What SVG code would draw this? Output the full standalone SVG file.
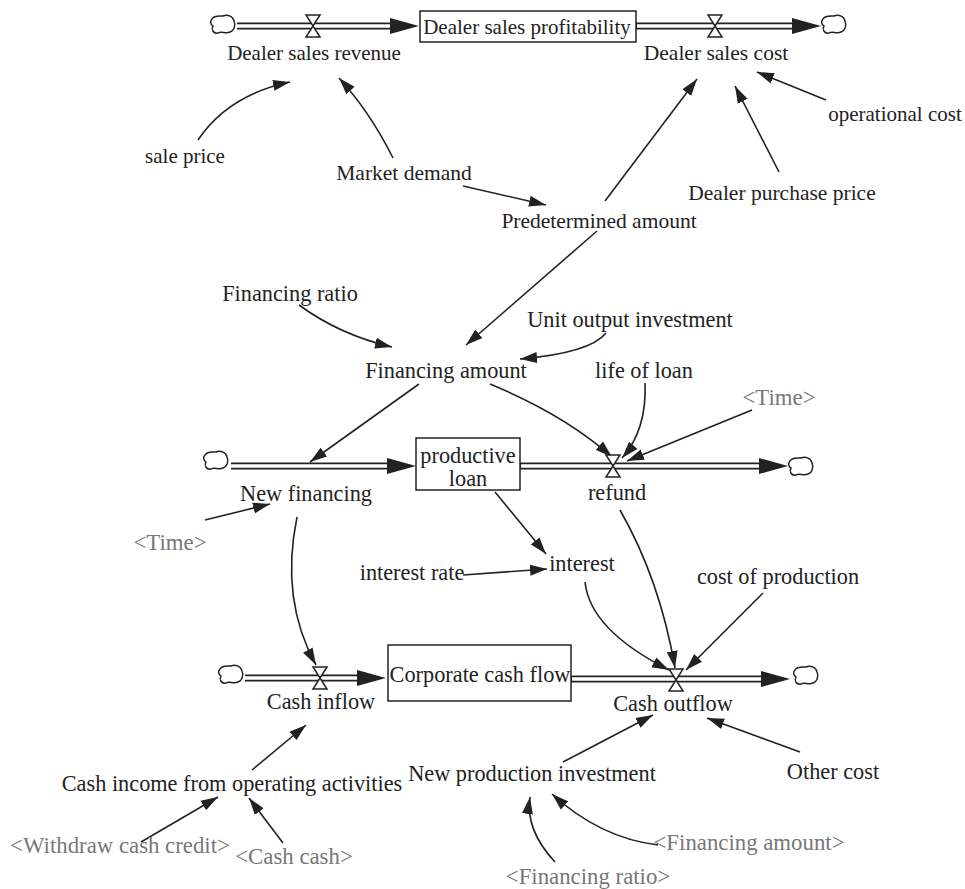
<svg xmlns="http://www.w3.org/2000/svg" width="965" height="889" viewBox="0 0 965 889" font-family="Liberation Serif, DejaVu Serif, serif">
<style>
text{font-family:'Liberation Serif','DejaVu Serif',serif;font-size:22.3px;fill:#222;text-anchor:middle}
text.s{font-size:21px}
text.m{font-size:21.5px}
text.g{fill:#777;font-size:22.8px}
.lnk{fill:none;stroke:#222;stroke-width:1.6;marker-end:url(#ah)}
.pipeo{stroke:#222;stroke-width:7;fill:none}
.pipei{stroke:#fff;stroke-width:3.6;fill:none}
.head{fill:#222}
.valve{fill:#fff;stroke:#222;stroke-width:1.5}
.box{fill:#fff;stroke:#222;stroke-width:1.5}
.cloud{fill:#fff;stroke:#222;stroke-width:1.5}
</style>
<defs>
<marker id="ah" markerUnits="userSpaceOnUse" markerWidth="18" markerHeight="12" refX="17" refY="5.5" orient="auto" viewBox="0 0 18 11">
<path d="M0,0 L17,5.5 L0,11 Z" fill="#222"/>
</marker>
<path id="cl" class="cloud" d="M-11,-6 C-9,-10 -3,-9 0,-9 C4,-11 10,-9 11,-4 C13,0 11,6 7,7 C3,9 -2,6 -5,8 C-10,9 -12,4 -10,1 C-13,-1 -13,-4 -11,-6 Z"/>
<path id="vv" class="valve" d="M-7,-11 L7,-11 L-7,11 L7,11 Z"/>
</defs>

<g id="connectors">
<path class="lnk" d="M198,140 Q228,95 290,82"/>
<path class="lnk" d="M393,158 Q370,112 339,78"/>
<path class="lnk" d="M463,186 L546,205"/>
<path class="lnk" d="M605,201 L697,79"/>
<path class="lnk" d="M779,172 L735,86"/>
<path class="lnk" d="M826,100 L757,72"/>
<path class="lnk" d="M597,231 L466,345"/>
<path class="lnk" d="M299,305 Q340,335 392,347"/>
<path class="lnk" d="M606,333 Q590,353 520,359"/>
<path class="lnk" d="M419,384 L310,462"/>
<path class="lnk" d="M490,384 Q565,415 612,457"/>
<path class="lnk" d="M645,383 Q647,430 622,458"/>
<path class="lnk" d="M752,410 L627,461"/>
<path class="lnk" d="M205,520 L270,504"/>
<path class="lnk" d="M297,517 Q280,600 316,665"/>
<path class="lnk" d="M495,492 L546,554"/>
<path class="lnk" d="M463,575 L547,569"/>
<path class="lnk" d="M585,582 Q590,630 669,670"/>
<path class="lnk" d="M620,510 Q660,580 675,668"/>
<path class="lnk" d="M763,593 L686,670"/>
<path class="lnk" d="M252,770 L306,725"/>
<path class="lnk" d="M563,762 L653,715"/>
<path class="lnk" d="M800,752 L707,718"/>
<path class="lnk" d="M141,842 L218,797"/>
<path class="lnk" d="M283,843 L249,798"/>
<path class="lnk" d="M658,845 Q600,838 552,794"/>
<path class="lnk" d="M555,862 Q525,830 530,797"/>
</g>

<g id="flow-dealer-sales-revenue">
<use href="#cl" x="223" y="25"/>
<line class="pipeo" x1="237" y1="26" x2="392" y2="26"/>
<line class="pipei" x1="237" y1="26" x2="394" y2="26"/>
<polygon class="head" points="390,18 419,26 390,34"/>
<use href="#vv" x="313" y="26"/>
<text class="s" x="314" y="60">Dealer sales revenue</text>
</g>
<g id="stock-dealer-sales-profitability">
<rect class="box" x="420" y="11" width="216" height="31"/>
<text class="s" x="527" y="34">Dealer sales profitability</text>
</g>
<g id="flow-dealer-sales-cost">
<line class="pipeo" x1="636" y1="26" x2="794" y2="26"/>
<line class="pipei" x1="637" y1="26" x2="796" y2="26"/>
<polygon class="head" points="792,18 821,26 792,34"/>
<use href="#cl" x="834" y="25"/>
<use href="#vv" x="715" y="26"/>
<text class="m" x="716" y="60">Dealer sales cost</text>
</g>

<g id="operational-cost"><text class="s" x="895" y="121">operational cost</text></g>
<g id="sale-price"><text class="s" x="185" y="163">sale price</text></g>
<g id="market-demand"><text class="m" x="404" y="180">Market demand</text></g>
<g id="dealer-purchase-price"><text class="m" x="782" y="200">Dealer purchase price</text></g>
<g id="predetermined-amount"><text class="m" x="599" y="228">Predetermined amount</text></g>
<g id="financing-ratio"><text x="290" y="301">Financing ratio</text></g>
<g id="unit-output-investment"><text x="630" y="327">Unit output investment</text></g>
<g id="financing-amount"><text x="446" y="378">Financing amount</text></g>
<g id="life-of-loan"><text x="644" y="378">life of loan</text></g>
<g id="time-1"><text class="g" x="779" y="405">&lt;Time&gt;</text></g>

<g id="flow-new-financing">
<use href="#cl" x="216" y="461"/>
<line class="pipeo" x1="231" y1="466" x2="389" y2="466"/>
<line class="pipei" x1="231" y1="466" x2="391" y2="466"/>
<polygon class="head" points="387,458 416,466 387,474"/>
<text x="306" y="501">New financing</text>
</g>
<g id="stock-productive-loan">
<rect class="box" x="416" y="438" width="104" height="52"/>
<text x="468" y="463">productive</text>
<text x="468" y="486">loan</text>
</g>
<g id="flow-refund">
<line class="pipeo" x1="520" y1="466" x2="761" y2="466"/>
<line class="pipei" x1="521" y1="466" x2="763" y2="466"/>
<polygon class="head" points="759,458 788,466 759,474"/>
<use href="#cl" x="801" y="467"/>
<use href="#vv" x="613" y="466"/>
<text x="617" y="500">refund</text>
</g>

<g id="time-2"><text class="g" x="170" y="550">&lt;Time&gt;</text></g>
<g id="interest-rate"><text x="412" y="580">interest rate</text></g>
<g id="interest"><text x="582" y="571">interest</text></g>
<g id="cost-of-production"><text x="778" y="584">cost of production</text></g>

<g id="flow-cash-inflow">
<use href="#cl" x="231" y="675"/>
<line class="pipeo" x1="245" y1="678" x2="359" y2="678"/>
<line class="pipei" x1="245" y1="678" x2="361" y2="678"/>
<polygon class="head" points="357,670 386,678 357,686"/>
<use href="#vv" x="320" y="678"/>
<text x="321" y="709">Cash inflow</text>
</g>
<g id="stock-corporate-cash-flow">
<rect class="box" x="388" y="645" width="183" height="56"/>
<text x="480" y="682">Corporate cash flow</text>
</g>
<g id="flow-cash-outflow">
<line class="pipeo" x1="571" y1="679" x2="763" y2="679"/>
<line class="pipei" x1="572" y1="679" x2="765" y2="679"/>
<polygon class="head" points="761,671 790,679 761,687"/>
<use href="#cl" x="806" y="676"/>
<use href="#vv" x="676" y="680"/>
<text x="673" y="711">Cash outflow</text>
</g>

<g id="cash-income"><text x="232" y="791">Cash income from operating activities</text></g>
<g id="new-production-investment"><text x="532" y="781">New production investment</text></g>
<g id="other-cost"><text x="833" y="779">Other cost</text></g>
<g id="withdraw-cash-credit"><text class="g" x="120" y="853">&lt;Withdraw cash credit&gt;</text></g>
<g id="cash-cash"><text class="g" x="294" y="864">&lt;Cash cash&gt;</text></g>
<g id="financing-amount-shadow"><text class="g" x="749" y="850">&lt;Financing amount&gt;</text></g>
<g id="financing-ratio-shadow"><text class="g" x="588" y="884">&lt;Financing ratio&gt;</text></g>
</svg>
